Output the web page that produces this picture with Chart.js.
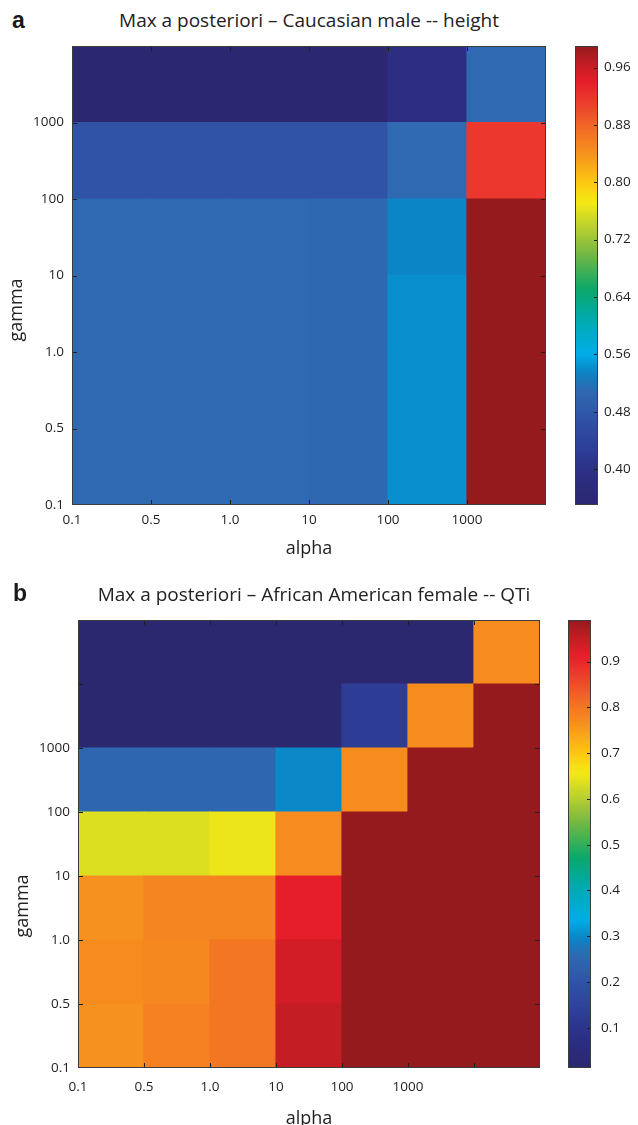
<!DOCTYPE html>
<html>
<head>
<meta charset="utf-8">
<script src="https://cdn.jsdelivr.net/npm/chart.js@4.4.1/dist/chart.umd.min.js"></script>
<style>
  body { margin: 0; background: #fff; }
  #page { position: relative; width: 638px; height: 1125px; overflow: hidden; font-family: 'Open Sans', sans-serif; color: #222; }
  .box { position: absolute; }
  .title { position: absolute; width: 600px; text-align: center; font-size: 19px; line-height: 19px; white-space: nowrap; }
  .letter { position: absolute; font-family: 'Liberation Sans', Arial, sans-serif; font-weight: bold; font-size: 23px; line-height: 23px; color: #1a1a1a; }
  .ylab { position: absolute; width: 100px; height: 24px; line-height: 24px; text-align: center; font-size: 18px; transform: rotate(-90deg); }
</style>
</head>
<body>
<div id="page">
  <div class="letter" style="left:12px; top:9px;">a</div>
  <div class="title" style="left:9px; top:11px;">Max a posteriori – Caucasian male -- height</div>
  <div class="box" style="left:0; top:30px; width:560px; height:530px;"><canvas id="heatA"></canvas></div>
  <div class="box" style="left:560px; top:30px; width:78px; height:530px;"><canvas id="barA"></canvas></div>
  <div class="ylab" style="left:-35px; top:298px;">gamma</div>

  <div class="letter" style="left:13px; top:582px;">b</div>
  <div class="title" style="left:14px; top:585px;">Max a posteriori – African American female -- QTi</div>
  <div class="box" style="left:0; top:600px; width:560px; height:525px;"><canvas id="heatB"></canvas></div>
  <div class="box" style="left:553px; top:600px; width:85px; height:525px;"><canvas id="barB"></canvas></div>
  <div class="ylab" style="left:-29px; top:894px;">gamma</div>
</div>
<script>
// Panel a: Caucasian male -- height
// rows go from gamma = 0.1 (bottom) upwards, columns by alpha
const alphaA = ['0.1', '0.5', '1.0', '10', '100', '1000'];
const gammaA = ['0.1', '0.5', '1.0', '10', '100', '1000'];
const mapA = [
  [0.51, 0.51, 0.51, 0.508, 0.542, 0.99],
  [0.51, 0.51, 0.51, 0.508, 0.542, 0.99],
  [0.51, 0.51, 0.51, 0.508, 0.542, 0.99],
  [0.51, 0.51, 0.51, 0.508, 0.536, 0.99],
  [0.472, 0.472, 0.472, 0.472, 0.51, 0.916],
  [0.352, 0.352, 0.352, 0.352, 0.39, 0.51]
];
const climA = [0.35, 0.99];
const cbTicksA = [0.40, 0.48, 0.56, 0.64, 0.72, 0.80, 0.88, 0.96];

// Panel b: African American female -- QTi
const alphaB = ['0.1', '0.5', '1.0', '10', '100', '1000'];
const gammaB = ['0.1', '0.5', '1.0', '10', '100', '1000'];
const mapB = [
  [0.765, 0.785, 0.80, 0.952, 0.99, 0.99, 0.99],
  [0.77, 0.775, 0.80, 0.937, 0.99, 0.99, 0.99],
  [0.765, 0.78, 0.78, 0.915, 0.99, 0.99, 0.99],
  [0.635, 0.635, 0.648, 0.77, 0.99, 0.99, 0.99],
  [0.25, 0.25, 0.25, 0.30, 0.77, 0.99, 0.99],
  [0.013, 0.013, 0.013, 0.013, 0.13, 0.77, 0.99],
  [0.013, 0.013, 0.013, 0.013, 0.013, 0.013, 0.77]
];
const climB = [0.012, 0.991];
const cbTicksB = [0.1, 0.2, 0.3, 0.4, 0.5, 0.6, 0.7, 0.8, 0.9];

// printed jet colormap
const mapStops = [0, 0.06, 0.12, 0.19, 0.25, 0.29, 0.33, 0.40, 0.47, 0.55, 0.61, 0.66, 0.71, 0.76, 0.82, 0.88, 0.92, 0.96, 1];
const mapColors = ['#2b2870', '#2b2d80', '#2d3d96', '#3053a5', '#2e69b1', '#0b84c4', '#00aee8', '#00aab2', '#0aa86a',
  '#78b842', '#c0d22e', '#f6ea14', '#fcc212', '#f7961c', '#f26c26', '#eb3a2e', '#e81e2a', '#c41d24', '#941a1e'];

const family = "'Open Sans', sans-serif";
const tickFont = { family, size: 13.5 };
const textColor = '#1e1e1e';

function hexRgb(h) {
  return [1, 3, 5].map(i => parseInt(h.substr(i, 2), 16));
}

function mapColor(t) {
  t = Math.min(1, Math.max(0, t));
  let i = 1;
  while (i < mapStops.length - 1 && mapStops[i] < t) i++;
  const f = (t - mapStops[i - 1]) / (mapStops[i] - mapStops[i - 1]);
  const a = hexRgb(mapColors[i - 1]), b = hexRgb(mapColors[i]);
  const c = a.map((v, k) => Math.round(v + (b[k] - v) * f));
  return `rgb(${c[0]},${c[1]},${c[2]})`;
}

function colorFor(v, clim) {
  return mapColor((v - clim[0]) / (clim[1] - clim[0]));
}

// box round the plot area with MATLAB-style inward ticks
const frame = {
  id: 'frame',
  afterDatasetsDraw(chart, args, opts) {
    const { ctx, chartArea: a } = chart;
    const len = opts.len || 5;
    ctx.save();
    ctx.strokeStyle = '#1e1e1e';
    ctx.lineWidth = 1;
    ctx.beginPath();
    if (opts.x) {
      const s = chart.scales.x;
      s.ticks.forEach(t => {
        if (t.value <= s.min || t.value >= s.max) return;
        const px = Math.round(s.getPixelForValue(t.value)) + 0.5;
        ctx.moveTo(px, a.bottom); ctx.lineTo(px, a.bottom - len);
        ctx.moveTo(px, a.top); ctx.lineTo(px, a.top + len);
      });
    }
    if (opts.y) {
      const s = chart.scales.y;
      s.ticks.forEach(t => {
        if (t.value <= s.min || t.value >= s.max) return;
        const py = Math.round(s.getPixelForValue(t.value)) + 0.5;
        if (opts.left !== false) { ctx.moveTo(a.left, py); ctx.lineTo(a.left + len, py); }
        ctx.moveTo(a.right, py); ctx.lineTo(a.right - len, py);
      });
    }
    ctx.stroke();
    ctx.strokeStyle = '#3c3c3c';
    ctx.strokeRect(Math.round(a.left) + 0.5, Math.round(a.top) + 0.5,
      Math.round(a.right - a.left) - 1, Math.round(a.bottom - a.top) - 1);
    ctx.restore();
  }
};

function heatmap(id, values, xLabels, yLabels, clim, o) {
  const nRows = values.length, nCols = values[0].length;
  const datasets = values.map((row, r) => ({
    data: row.map((v, c) => ({ x: c + 0.5, y: [r, r + 1] })),
    backgroundColor: row.map(v => colorFor(v, clim)),
    borderWidth: 0,
    inflateAmount: 0.6,
    grouped: false,
    barPercentage: 1,
    categoryPercentage: 1
  }));
  const edges = n => Array.from({ length: n + 1 }, (_, i) => ({ value: i }));
  new Chart(document.getElementById(id), {
    type: 'bar',
    data: { datasets },
    options: {
      responsive: true,
      maintainAspectRatio: false,
      animation: false,
      layout: { padding: { top: o.top, right: o.right, bottom: 0, left: 0 } },
      plugins: {
        legend: { display: false },
        tooltip: { enabled: false },
        frame: { x: true, y: true }
      },
      scales: {
        x: {
          type: 'linear', min: 0, max: nCols, offset: false,
          afterBuildTicks: s => { s.ticks = edges(nCols); },
          afterFit: s => { s.height = o.xHeight; },
          grid: { display: false, drawTicks: false },
          border: { display: false },
          ticks: { padding: o.xPad, font: tickFont, color: textColor, maxRotation: 0, autoSkip: false,
            callback: v => xLabels[v] ?? '' },
          title: { display: true, text: 'alpha', color: textColor,
            font: { family, size: 18, lineHeight: 1 }, padding: { top: 0, bottom: o.titlePad } }
        },
        y: {
          type: 'linear', min: 0, max: nRows,
          afterBuildTicks: s => { s.ticks = edges(nRows); },
          afterFit: s => { s.width = o.yWidth; },
          grid: { display: false, drawTicks: false },
          border: { display: false },
          ticks: { padding: 8, font: tickFont, color: textColor, autoSkip: false,
            callback: v => yLabels[v] ?? '' }
        }
      }
    },
    plugins: [frame]
  });
}

function colorbar(id, clim, tickValues, digits, o) {
  new Chart(document.getElementById(id), {
    type: 'bar',
    data: {
      labels: [''],
      datasets: [{
        data: [clim],
        backgroundColor: ctx => {
          const area = ctx.chart.chartArea;
          if (!area || !isFinite(area.top) || !isFinite(area.bottom)) return mapColors[0];
          const g = ctx.chart.ctx.createLinearGradient(0, area.bottom, 0, area.top);
          for (let i = 0; i <= 64; i++) g.addColorStop(i / 64, mapColor(i / 64));
          return g;
        },
        borderWidth: 0,
        barPercentage: 1,
        categoryPercentage: 1
      }]
    },
    options: {
      responsive: true,
      maintainAspectRatio: false,
      animation: false,
      layout: { padding: { top: o.top, right: 0, bottom: o.bottom, left: o.left } },
      plugins: {
        legend: { display: false },
        tooltip: { enabled: false },
        frame: { y: true, left: false, len: 4 }
      },
      scales: {
        x: { display: false },
        y: {
          position: 'right', min: clim[0], max: clim[1],
          afterBuildTicks: s => { s.ticks = tickValues.map(v => ({ value: v })); },
          afterFit: s => { s.width = o.yWidth; },
          grid: { display: false, drawTicks: false },
          border: { display: false },
          ticks: { padding: o.pad, font: tickFont, color: textColor, autoSkip: false,
            callback: v => v.toFixed(digits) }
        }
      }
    },
    plugins: [frame]
  });
}

heatmap('heatA', mapA, alphaA, gammaA, climA, { top: 16, right: 14, yWidth: 72, xHeight: 55, xPad: 7, titlePad: 2.5 });
colorbar('barA', climA, cbTicksA, 2, { top: 16, bottom: 55, left: 15, yWidth: 40, pad: 6 });
heatmap('heatB', mapB, alphaB, gammaB, climB, { top: 20, right: 20, yWidth: 78, xHeight: 57, xPad: 11, titlePad: -2.5 });
colorbar('barB', climB, cbTicksB, 1, { top: 20, bottom: 57, left: 15, yWidth: 47, pad: 10 });
</script>
</body>
</html>
